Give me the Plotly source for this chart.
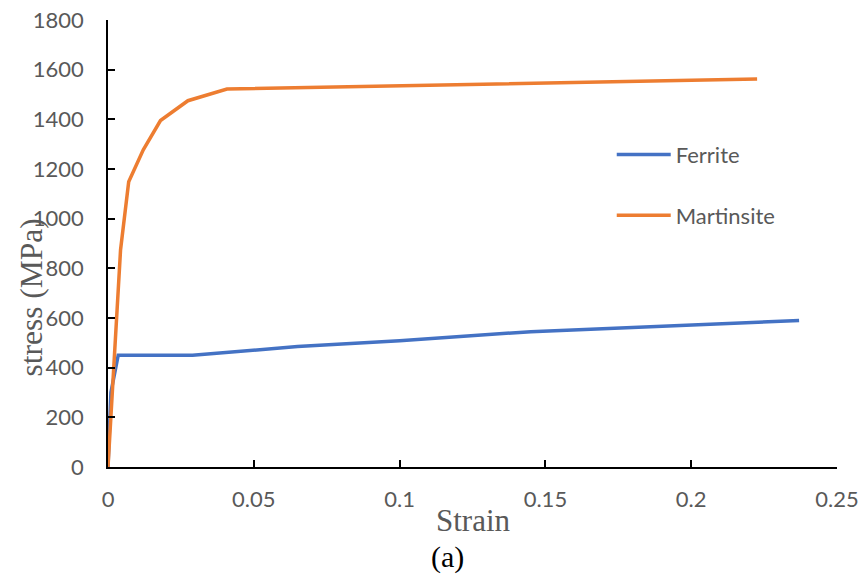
import plotly.graph_objects as go

# Stress-strain curves of the two phases
ferrite_strain = [0, 0.001, 0.0035, 0.029, 0.065, 0.1, 0.145, 0.237]
ferrite_stress = [0, 300, 450, 450, 485, 508, 545, 590]

martensite_strain = [0, 0.0043, 0.0071, 0.0121, 0.018, 0.0274, 0.0408, 0.2226]
martensite_stress = [0, 874, 1149, 1277, 1395, 1475, 1522, 1562]

x_ticks = [0, 0.05, 0.1, 0.15, 0.2, 0.25]
x_tick_labels = ["0", "0.05", "0.1", "0.15", "0.2", "0.25"]
y_ticks = [0, 200, 400, 600, 800, 1000, 1200, 1400, 1600, 1800]

BLUE = "#4472C4"
ORANGE = "#ED7D31"
GRAY = "#595959"
SANS = "Lato, 'Open Sans', sans-serif"
SERIF = "'Liberation Serif', 'Times New Roman', serif"

fig = go.Figure()
fig.add_trace(go.Scatter(
    x=ferrite_strain, y=ferrite_stress, mode="lines", name="Ferrite",
    legendgroup="f", line=dict(color=BLUE, width=3.5),
))
fig.add_trace(go.Scatter(
    x=martensite_strain, y=martensite_stress, mode="lines", name="Martinsite",
    legendgroup="m", line=dict(color=ORANGE, width=3.5),
))

axis_common = dict(
    showgrid=False, zeroline=False, showline=True, linecolor="black",
    linewidth=1.5, ticks="inside", ticklen=7, tickwidth=1.5, tickcolor="black",
    tickfont=dict(family=SANS, size=22, color=GRAY), automargin=False,
)

fig.update_layout(
    width=862, height=575, autosize=False,
    margin=dict(l=107.5, r=25, t=20, b=108, pad=0),
    paper_bgcolor="white", plot_bgcolor="white",
    xaxis=dict(range=[0, 0.25], tickvals=x_ticks, ticktext=x_tick_labels,
               ticklabelstandoff=12, **axis_common),
    yaxis=dict(range=[0, 1800], tickvals=y_ticks, ticklabelstandoff=18,
               **axis_common),
    showlegend=True,
    legend=dict(x=0.691, y=0.7455, xanchor="left", yanchor="top",
                font=dict(family=SANS, size=22, color=GRAY),
                itemwidth=54, tracegroupgap=29, bgcolor="rgba(0,0,0,0)"),
    annotations=[
        dict(text="stress (MPa)", xref="paper", yref="paper", x=-0.105,
             y=0.38, textangle=-90, showarrow=False, xanchor="center",
             yanchor="middle", font=dict(family=SERIF, size=31.5, color=GRAY)),
        dict(text="Strain", xref="paper", yref="paper", x=0.501, y=-0.1186,
             showarrow=False, xanchor="center", yanchor="middle",
             font=dict(family=SERIF, size=31, color=GRAY)),
        dict(text="(a)", xref="paper", yref="paper", x=0.466, y=-0.201,
             showarrow=False, xanchor="center", yanchor="middle",
             font=dict(family=SERIF, size=30, color="black")),
    ],
)

fig.write_html("out.html")
